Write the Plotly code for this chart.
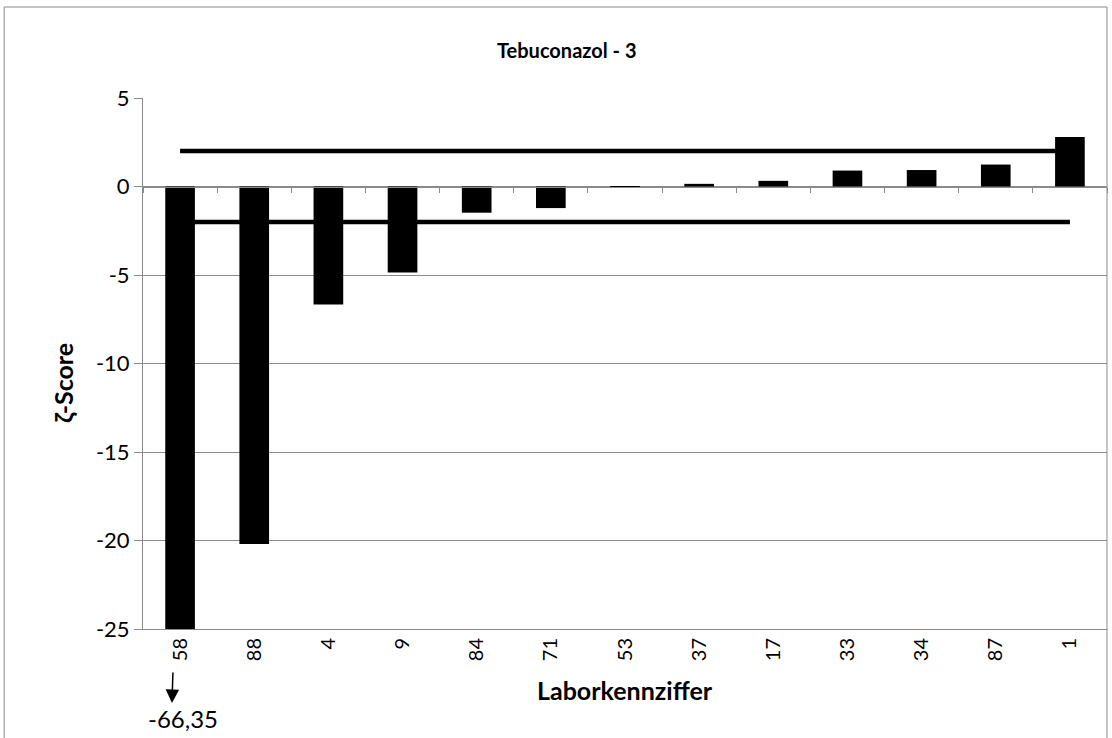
import plotly.graph_objects as go

labs = ["58", "88", "4", "9", "84", "71", "53", "37", "17", "33", "34", "87", "1"]
zeta = [-66.35, -20.2, -6.67, -4.86, -1.48, -1.22, -0.05, 0.15, 0.32, 0.9, 0.93, 1.24, 2.79]
upper_limit = [2, 2]
lower_limit = [-2, -2]
limit_x = [labs[0], labs[-1]]
yticks = [5, 0, -5, -10, -15, -20, -25]

FONT = "Lato, Open Sans, sans-serif"
GREY = "#8a8a8a"

fig = go.Figure()
fig.add_trace(go.Bar(x=labs, y=zeta, marker=dict(color="black", line=dict(width=0)),
                     width=0.4, xaxis="x", yaxis="y", showlegend=False))
fig.add_trace(go.Scatter(x=limit_x, y=upper_limit, mode="lines",
                         line=dict(color="black", width=4.5), xaxis="x2", showlegend=False))
fig.add_trace(go.Scatter(x=limit_x, y=lower_limit, mode="lines",
                         line=dict(color="black", width=4.5), xaxis="x2", showlegend=False))

fig.update_layout(
    width=1112, height=738,
    margin=dict(l=143, r=5, t=98, b=109),
    paper_bgcolor="white", plot_bgcolor="white",
    font=dict(family=FONT, color="black", size=17),
    xaxis=dict(type="category", categoryorder="array", categoryarray=labs,
               range=[-0.5, len(labs) - 0.5], tickangle=-90, ticks="",
               showline=True, linecolor=GREY, linewidth=1, showgrid=False,
               tickfont=dict(size=20, family=FONT), anchor="y"),
    xaxis2=dict(type="category", categoryorder="array", categoryarray=labs,
                range=[-0.5, len(labs) - 0.5], overlaying="x", anchor="free",
                position=25 / 30, showline=True, linecolor=GREY, linewidth=1,
                ticks="outside", ticklen=5, tickcolor=GREY, tickson="boundaries",
                showticklabels=False, showgrid=False),
    yaxis=dict(range=[-25, 5], tickvals=yticks, ticktext=[str(v) for v in yticks],
               showgrid=True, gridcolor=GREY, gridwidth=1, zeroline=False,
               showline=True, linecolor=GREY, linewidth=1,
               ticks="outside", ticklen=8, tickcolor=GREY,
               tickfont=dict(size=22, family=FONT)),
    bargap=0.6,
)

fig.add_annotation(text="<b>Tebuconazol - 3</b>", xref="paper", yref="paper",
                   x=(567 - 143) / 965, y=(629 - 50) / 531, showarrow=False,
                   font=dict(size=20, family=FONT), xanchor="center", yanchor="middle")
fig.add_annotation(text="<b>ζ-Score</b>", xref="paper", yref="paper",
                   x=(63 - 143) / 965, y=(629 - 383) / 531, showarrow=False, textangle=-90,
                   font=dict(size=25, family=FONT), xanchor="center", yanchor="middle")
fig.add_annotation(text="<b>Laborkennziffer</b>", xref="paper", yref="paper",
                   x=(625 - 143) / 965, y=(629 - 690) / 531, showarrow=False,
                   font=dict(size=25, family=FONT), xanchor="center", yanchor="middle")
# arrow pointing to off-scale value
fig.add_annotation(text="", xref="paper", yref="paper",
                   x=(172 - 143) / 965, y=(629 - 703) / 531,
                   ax=1, ay=-32, axref="pixel", ayref="pixel",
                   showarrow=True, arrowhead=2, arrowsize=1.8, arrowwidth=1.5, arrowcolor="black")
fig.add_annotation(text="-66,35", xref="paper", yref="paper",
                   x=(183 - 143) / 965, y=(629 - 718) / 531, showarrow=False,
                   font=dict(size=24, family=FONT), xanchor="center", yanchor="middle")
# chart area border
fig.add_shape(type="rect", xref="paper", yref="paper",
              x0=(4 - 143) / 965, x1=(1108 - 143) / 965,
              y0=(629 - 760) / 531, y1=(629 - 7) / 531,
              line=dict(color=GREY, width=1), fillcolor="rgba(0,0,0,0)", layer="below")

fig.write_html("out.html", config={"displayModeBar": False},
               post_script="document.body.style.margin='0';")
